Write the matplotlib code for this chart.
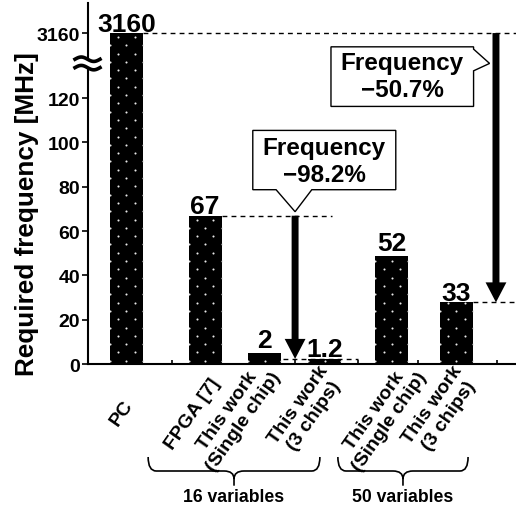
import numpy as np
import matplotlib
matplotlib.use('Agg')
import matplotlib.pyplot as plt
import matplotlib.transforms as mtransforms
from matplotlib.patches import Polygon, PathPatch
from matplotlib.path import Path

plt.rcParams['font.family'] = ['Liberation Sans', 'DejaVu Sans']
plt.rcParams['font.weight'] = 'bold'

# bar data (heights as drawn; the PC bar sits above the axis break)
categories = ['PC', 'FPGA [7]', 'This work\n(Single chip)', 'This work\n(3 chips)',
              'This work\n(Single chip)', 'This work\n(3 chips)']
bar_x = [0.62, 1.89, 2.85, 3.82, 4.90, 5.94]
bar_heights = [149.3, 66.9, 5.0, 2.3, 48.9, 27.8]
bar_labels = ['3160', '67', '2', '1.2', '52', '33']

y_ticks = [0, 20, 40, 60, 80, 100, 120, 149.3]
y_tick_labels = ['0', '20', '40', '60', '80', '100', '120', '3160']
x_ticks = [1.35, 3.34, 4.355, 5.32, 6.59]

groups = ['16 variables', '50 variables']
group_spans = [(0.97, 3.74), (4.03, 6.13)]

callout_texts = ['Frequency\n\u221298.2%', 'Frequency\n\u221250.7%']

BAR_W = 0.53
DPI = 100

fig = plt.figure(figsize=(5.16, 5.06), dpi=DPI)
ax = fig.add_axes([88 / 516, 1 - 365 / 506, 428 / 516, 361 / 506])
ax.set_xlim(0, 6.903)
ax.set_ylim(0, 162.86)

bars = ax.bar(bar_x, bar_heights, width=BAR_W, color='black', linewidth=0, zorder=2)

# dotted texture inside the bars (staggered white dots, spacing in px)
step = 8.3
for patch in bars:
    (x0, y0), (x1, y1) = ax.transData.transform([(patch.get_x(), 0),
                                                 (patch.get_x() + patch.get_width(), patch.get_height())])
    xc = (x0 + x1) / 2
    pts = []
    k = 0
    y = y0 + 3.3
    while y < y1:
        for m in range(-2, 3):
            if (m + k) % 2 == 0:
                pts.append((xc + m * step, y))
        k += 1
        y += step
    if pts:
        d = ax.transData.inverted().transform(pts)
        ln, = ax.plot(d[:, 0], d[:, 1], ls='none', marker='o', ms=1.5, mfc='#e8e8e8',
                      mec='none', zorder=3)
        ln.set_clip_path(patch)

# value labels above bars (offsets in points)
label_dy = [1.6, 2.0, 4.3, 2.4, 4.3, 1.9]
for x, h, lab, dy in zip(bar_x, bar_heights, bar_labels, label_dy):
    ax.annotate(lab, (x, h), xytext=(0, dy), textcoords='offset points',
                ha='center', va='baseline', fontsize=19, zorder=6)

# spines / ticks
for s in ['top', 'right']:
    ax.spines[s].set_visible(False)
ax.spines['left'].set_linewidth(1.5)
ax.spines['bottom'].set_linewidth(1.5)
ax.set_yticks(y_ticks, y_tick_labels)
ax.tick_params(axis='y', direction='out', length=4, width=1.2, pad=1.5, labelsize=14)
ax.set_xticks(x_ticks)
ax.tick_params(axis='x', direction='in', length=3, width=1.2, labelbottom=False)

fig.text(27 / 516, 1 - 214 / 506, 'Required frequency [MHz]', rotation=90,
         ha='center', va='center', fontsize=18.8)

# category labels below the axis (offsets in px)
label_offsets = [(2.7, -37.7), (11.0, -16.0), (4.1, -3.5), (7.2, -8.5), (23.8, -3.5), (10.7, -8.5)]
for x, cat, (dx, dy) in zip(bar_x, categories, label_offsets):
    ax.annotate(cat, (x, 0), xycoords=('data', 'axes fraction'),
                xytext=(dx * 72 / DPI, dy * 72 / DPI), textcoords='offset points',
                ha='right', va='center', rotation=55, rotation_mode='anchor',
                multialignment='center', fontsize=14, annotation_clip=False)

# dashed reference lines
dash = (0, (3.5, 3))
ax.hlines(bar_heights[0], bar_x[0] + BAR_W / 2, 6.903, colors='black', lw=1, linestyles=dash, zorder=3, clip_on=False)
ax.hlines(bar_heights[1], bar_x[1] + BAR_W / 2, 3.93, colors='black', lw=1, linestyles=dash, zorder=3)
ax.hlines(bar_heights[3], 3.15, 4.355, colors='black', lw=1, linestyles=dash, zorder=3)
ax.hlines(bar_heights[5], bar_x[5] + BAR_W / 2, 6.903, colors='black', lw=1, linestyles=dash, zorder=3, clip_on=False)

# reduction arrows
arrow_style = 'simple,head_length=0.72,head_width=0.75,tail_width=0.25'
for x, i_from, i_to in [(3.34, 1, 3), (6.58, 0, 5)]:
    ax.annotate('', xy=(x, bar_heights[i_to]), xytext=(x, bar_heights[i_from]),
                arrowprops=dict(arrowstyle=arrow_style, mutation_scale=20,
                                fc='black', ec='black', lw=0, shrinkA=0, shrinkB=0),
                zorder=4)


def callout(anchor, verts_px, text_px, text):
    trans = fig.dpi_scale_trans + mtransforms.ScaledTranslation(anchor[0], anchor[1], ax.transData)
    poly = Polygon(np.array(verts_px) / DPI, closed=True, transform=trans,
                   fc='white', ec='black', lw=1, zorder=5, clip_on=False)
    ax.add_patch(poly)
    ax.text(text_px[0] / DPI, text_px[1] / DPI, text, transform=trans, ha='center',
            va='center', fontsize=17.5, linespacing=1.2, zorder=6)


callout((3.34, bar_heights[1]),
        [(-42.3, 26), (-19, 26), (0, 4), (16.7, 26), (100.7, 26), (100.7, 85.3), (-42.3, 85.3)],
        (29.2, 55.0), callout_texts[0])
callout((6.58, 135.6),
        [(-165, -43), (-22.4, -43), (-22.4, -7.4), (-6.4, 0), (-22.4, 14.3), (-22.4, 16.6), (-165, 16.6)],
        (-93.7, -12.5), callout_texts[1])

# axis break mark
btrans = fig.dpi_scale_trans + mtransforms.ScaledTranslation(0, 135.6, ax.transData)
t = np.linspace(0, 1, 40)
bx = (-13 + 25 * t) / DPI
wave = 2.2 * np.sin(2 * np.pi * t)
up = (4.2 + wave) / DPI
lo = (-4.2 + wave) / DPI
ax.add_patch(Polygon(np.column_stack([np.r_[bx, bx[::-1]], np.r_[up, lo[::-1]]]),
                     transform=btrans, fc='white', ec='none', zorder=5, clip_on=False))
ax.plot(bx, up, color='black', lw=2.6, transform=btrans, zorder=6, clip_on=False)
ax.plot(bx, lo, color='black', lw=2.6, transform=btrans, zorder=6, clip_on=False)

# group braces
gtrans = mtransforms.blended_transform_factory(ax.transData, fig.dpi_scale_trans)
r, w = 0.13, 0.16
y_top, y_mid, y_bend, y_tip = 0.48, 0.34, 0.26, 0.193
for name, (x0, x1) in zip(groups, group_spans):
    xm = (x0 + x1) / 2
    verts = [(x0, y_top), (x0, y_mid), (x0 + r, y_mid), (xm - w, y_mid), (xm, y_mid), (xm, y_bend), (xm, y_tip),
             (xm, y_bend), (xm, y_mid), (xm + w, y_mid), (x1 - r, y_mid), (x1, y_mid), (x1, y_top)]
    codes = [Path.MOVETO, Path.CURVE3, Path.CURVE3, Path.LINETO, Path.CURVE3, Path.CURVE3, Path.LINETO,
             Path.MOVETO, Path.CURVE3, Path.CURVE3, Path.LINETO, Path.CURVE3, Path.CURVE3]
    fig.add_artist(PathPatch(Path(verts, codes), transform=gtrans, fc='none', ec='black', lw=1.2))
    fig.text(xm, 0.043, name, transform=gtrans, ha='center', va='baseline', fontsize=12.7)

fig.savefig('out.png', dpi=DPI)
